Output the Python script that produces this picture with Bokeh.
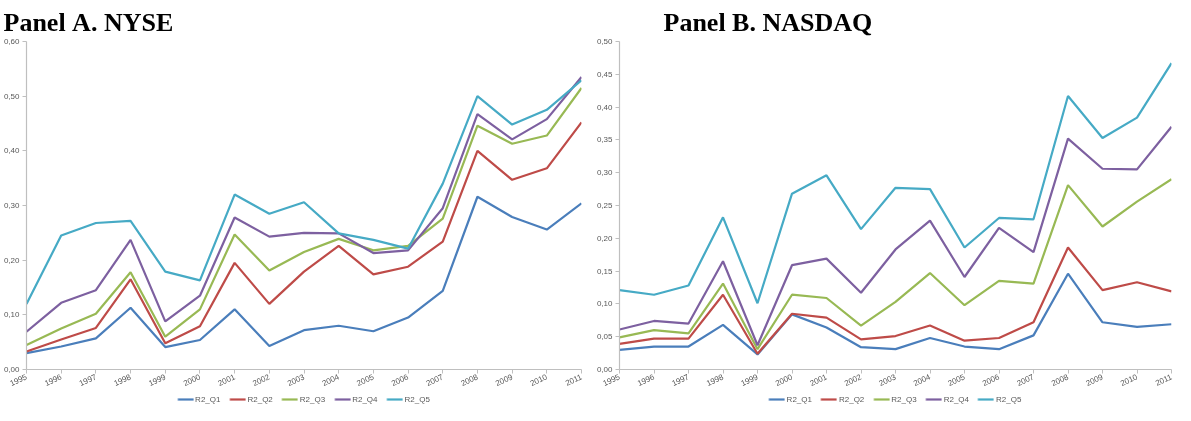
from bokeh.plotting import figure
from bokeh.models import Legend, LegendItem, FixedTicker, Range1d
from bokeh.layouts import row
from bokeh.embed import file_html
from bokeh.resources import INLINE

years = list(range(1995, 2012))
series_names = ["R2_Q1", "R2_Q2", "R2_Q3", "R2_Q4", "R2_Q5"]
colors = ["#4A7EBB", "#BE4B48", "#98B954", "#7D60A0", "#46AAC5"]

nyse_q1 = [0.030, 0.042, 0.057, 0.113, 0.041, 0.054, 0.110, 0.043, 0.072, 0.080, 0.070, 0.095, 0.144, 0.316, 0.279, 0.256, 0.304]
nyse_q2 = [0.033, 0.055, 0.076, 0.165, 0.048, 0.079, 0.195, 0.120, 0.179, 0.226, 0.174, 0.188, 0.234, 0.400, 0.347, 0.368, 0.452]
nyse_q3 = [0.045, 0.075, 0.102, 0.178, 0.060, 0.110, 0.247, 0.181, 0.215, 0.239, 0.218, 0.226, 0.276, 0.446, 0.413, 0.428, 0.515]
nyse_q4 = [0.069, 0.122, 0.145, 0.237, 0.088, 0.135, 0.278, 0.243, 0.250, 0.249, 0.213, 0.218, 0.295, 0.467, 0.421, 0.458, 0.535]
nyse_q5 = [0.120, 0.245, 0.268, 0.272, 0.179, 0.163, 0.320, 0.285, 0.306, 0.249, 0.237, 0.221, 0.340, 0.500, 0.448, 0.475, 0.529]

nasdaq_q1 = [0.030, 0.035, 0.035, 0.068, 0.023, 0.084, 0.064, 0.034, 0.031, 0.048, 0.035, 0.031, 0.052, 0.146, 0.072, 0.065, 0.069]
nasdaq_q2 = [0.039, 0.047, 0.047, 0.114, 0.024, 0.085, 0.079, 0.046, 0.051, 0.067, 0.044, 0.048, 0.072, 0.186, 0.121, 0.133, 0.119]
nasdaq_q3 = [0.049, 0.060, 0.055, 0.131, 0.031, 0.114, 0.109, 0.067, 0.103, 0.147, 0.098, 0.135, 0.131, 0.281, 0.218, 0.256, 0.290]
nasdaq_q4 = [0.061, 0.074, 0.070, 0.165, 0.037, 0.159, 0.169, 0.117, 0.183, 0.227, 0.141, 0.216, 0.179, 0.352, 0.306, 0.305, 0.370]
nasdaq_q5 = [0.121, 0.114, 0.128, 0.232, 0.101, 0.268, 0.296, 0.214, 0.277, 0.275, 0.186, 0.231, 0.229, 0.417, 0.353, 0.384, 0.467]

nyse_ticks = [0.0, 0.1, 0.2, 0.3, 0.4, 0.5, 0.6]
nyse_tick_labels = ["0,00", "0,10", "0,20", "0,30", "0,40", "0,50", "0,60"]
nasdaq_ticks = [0.0, 0.05, 0.1, 0.15, 0.2, 0.25, 0.3, 0.35, 0.4, 0.45, 0.5]
nasdaq_tick_labels = ["0,00", "0,05", "0,10", "0,15", "0,20", "0,25", "0,30", "0,35", "0,40", "0,45", "0,50"]

AXIS_GRAY = "#BFBFBF"
LABEL_GRAY = "#595959"


def make_panel(title, data, yticks, ylabels, ymax, width, left, right, title_offset):
    p = figure(width=width, height=405, output_backend="canvas", toolbar_location=None,
               x_range=Range1d(1995, 2011), y_range=Range1d(0, ymax),
               min_border_left=left, min_border_right=right, min_border_top=31,
               min_border_bottom=0)
    p.outline_line_color = None
    p.xgrid.visible = False
    p.ygrid.visible = False
    p.title.text = title
    p.title.text_font = "Liberation Serif"
    p.title.text_font_style = "bold"
    p.title.text_font_size = "26px"
    p.title.text_color = "black"
    p.title.align = "left"
    p.title.offset = title_offset

    p.yaxis.ticker = FixedTicker(ticks=yticks)
    overrides = {}
    for t, lab in zip(yticks, ylabels):
        overrides[t] = lab
        overrides[str(int(t)) if t == 0 else str(t)] = lab
    p.yaxis.major_label_overrides = overrides
    p.xaxis.ticker = FixedTicker(ticks=years)
    p.xaxis.major_label_orientation = 0.44
    for ax in (p.xaxis, p.yaxis):
        ax.axis_line_color = AXIS_GRAY
        ax.axis_line_width = 1.2
        ax.major_tick_line_color = AXIS_GRAY
        ax.major_tick_out = 4
        ax.major_tick_in = 0
        ax.minor_tick_line_color = None
        ax.major_label_text_font = "Liberation Sans"
        ax.major_label_text_font_size = "8px"
        ax.major_label_text_color = LABEL_GRAY
        ax.major_label_standoff = 3

    items = []
    for name, ys, c in zip(series_names, data, colors):
        r = p.line(years, ys, line_color=c, line_width=2.2)
        items.append(LegendItem(label=name, renderers=[r]))
    leg = Legend(items=items, orientation="horizontal", location="center",
                 label_text_font="Liberation Sans", label_text_font_size="8px",
                 label_text_color=LABEL_GRAY, glyph_width=16, glyph_height=10,
                 label_standoff=2, spacing=9, padding=0, margin=2,
                 border_line_alpha=0, background_fill_alpha=0)
    p.add_layout(leg, "below")
    return p


pa = make_panel("Panel A. NYSE", [nyse_q1, nyse_q2, nyse_q3, nyse_q4, nyse_q5],
                nyse_ticks, nyse_tick_labels, 0.60, 586, 26, 5, -23)
pb = make_panel("Panel B. NASDAQ", [nasdaq_q1, nasdaq_q2, nasdaq_q3, nasdaq_q4, nasdaq_q5],
                nasdaq_ticks, nasdaq_tick_labels, 0.50, 589, 33, 4, 44)

layout = row(pa, pb)
open("out.html", "w").write(file_html(layout, INLINE))
